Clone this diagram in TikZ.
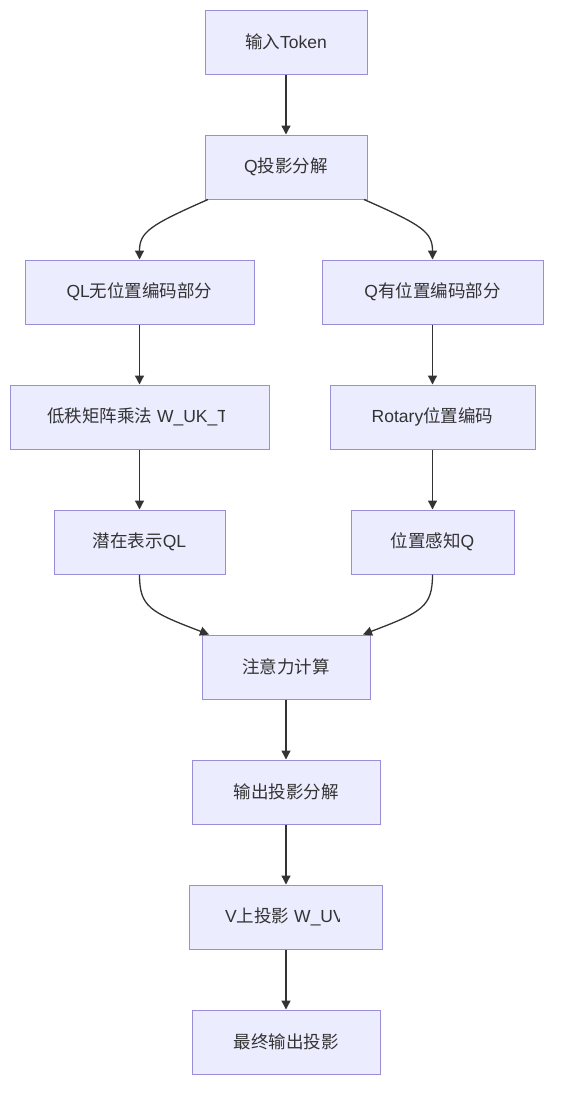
\documentclass[tikz,border=0pt]{standalone}
\usepackage{fontspec}
\setmainfont{Liberation Sans}
\newfontfamily\cjk{Noto Sans CJK SC}
\usetikzlibrary{arrows.meta}
\definecolor{nodefill}{HTML}{ECECFF}
\definecolor{nodeline}{HTML}{9A8ED8}
\definecolor{textc}{HTML}{333333}
\begin{document}
\begin{tikzpicture}[x=1pt,y=-1pt,
 box/.style={draw=nodeline, fill=nodefill, line width=1pt, inner sep=0pt, minimum height=64pt, text=textc, font=\fontsize{17.5}{20}\selectfont},
 lbl/.style={inner sep=0pt, text=textc, font=\fontsize{17.5}{20}\selectfont},
 link/.style={draw=textc, line width=1.3pt, -{Triangle[length=9pt,width=9pt]}}]
\useasboundingbox (0,0) rectangle (566,1104);
\node[box, minimum width=162pt] (a) at (286,42) {{\cjk 输入}Token};
\node[box, minimum width=162pt] (b) at (286,167) {Q{\cjk 投影分解}};
\node[box, minimum width=229pt] (c1) at (139.5,292) {QL{\cjk 无位置编码部分}};
\node[box, minimum width=221pt] (d1) at (432.5,292) {Q{\cjk 有位置编码部分}};
\node[box, minimum width=259pt] (c2) at (139.5,417) {};
\begin{scope}
\clip (47,400) rectangle (224,440);
\node[lbl, anchor=west] (c2t) at (47,417) {{\cjk 低秩矩阵乘法} W\_UK\_T};
\end{scope}
\node[box, minimum width=205pt] (d2) at (432.5,417) {Rotary{\cjk 位置编码}};
\node[box, minimum width=171pt] (c3) at (139.5,542) {{\cjk 潜在表示}QL};
\node[box, minimum width=163pt] (d3) at (432.5,542) {{\cjk 位置感知}Q};
\node[box, minimum width=168pt] (e) at (286,667) {{\cjk 注意力计算}};
\node[box, minimum width=188pt] (f) at (286,792) {{\cjk 输出投影分解}};
\node[box, minimum width=193pt] (g) at (286,917) {};
\begin{scope}
\clip (225,900) rectangle (339,940);
\node[lbl, anchor=west] (gt) at (225,917) {V{\cjk 上投影} W\_UV};
\end{scope}
\node[box, minimum width=188pt] (h) at (286,1042) {{\cjk 最终输出投影}};

\draw[link] (a) -- (b);
\draw[link] ([xshift=-78pt]b.south) .. controls (150,225) and (139.5,232) .. (c1.north);
\draw[link] ([xshift=78pt]b.south) .. controls (422,225) and (432.5,232) .. (d1.north);
\draw[link] (c1) -- (c2);
\draw[link] (c2) -- (c3);
\draw[link] (d1) -- (d2);
\draw[link] (d2) -- (d3);
\draw[link] (c3.south) .. controls (139.5,607) and (150,612) .. ([xshift=-77pt]e.north);
\draw[link] (d3.south) .. controls (432.5,607) and (422,612) .. ([xshift=77pt]e.north);
\draw[link] (e) -- (f);
\draw[link] (f) -- (g);
\draw[link] (g) -- (h);
\end{tikzpicture}
\end{document}
